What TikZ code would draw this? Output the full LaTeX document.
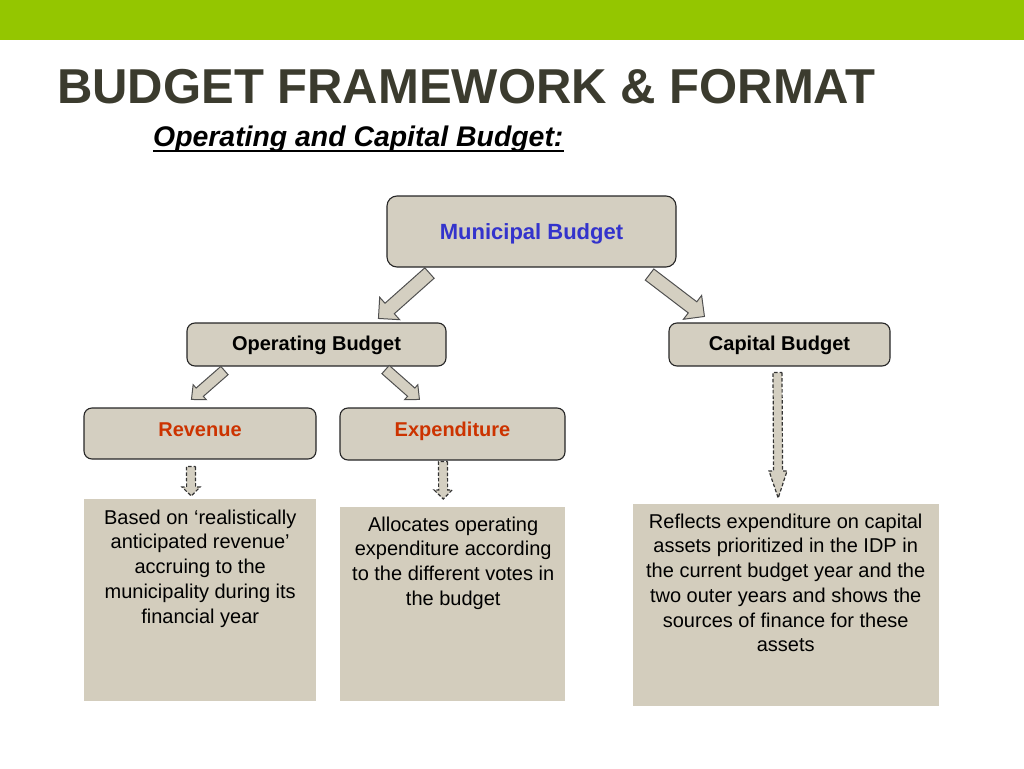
\documentclass[tikz,border=0pt]{standalone}
\usepackage{fontspec}
\setmainfont{Liberation Sans}
\usetikzlibrary{calc}
\definecolor{barGreen}{HTML}{94C600}
\definecolor{titleGray}{HTML}{3B3B2E}
\definecolor{boxFill}{HTML}{D4CFC1}
\definecolor{descFill}{HTML}{D3CDBD}
\definecolor{munBlue}{HTML}{3333CC}
\definecolor{subRed}{HTML}{CC3300}
\definecolor{arrowLine}{HTML}{505050}
\tikzset{
  hdbox/.style={draw=black!85, line width=1.1pt, fill=boxFill, rounded corners=8pt,
    font=\fontsize{20}{24}\selectfont\bfseries, text height=15pt, text depth=4pt, inner sep=0pt},
  descbox/.style={fill=descFill, inner sep=0pt, anchor=north west},
  desctext/.style={font=\fontsize{20}{24.7}\selectfont, align=center, inner sep=0pt, anchor=north},
  blockarr/.style={draw=arrowLine, line width=1pt, fill=boxFill, line join=miter},
  dasharr/.style={blockarr, draw=black!80, line width=1.2pt, dash pattern=on 3.5pt off 2pt}
}
% block arrow: [style]{from}{to}{shaft half}{head half}{head length}
\newcommand{\blockarrow}[6][]{%
  \coordinate (ba-head) at ($(#3)!#6!(#2)$);
  \draw[blockarr,#1] ($(#2)!#4!90:(#3)$) -- ($(ba-head)!#4!90:(#3)$) -- ($(ba-head)!#5!90:(#3)$)
    -- (#3) -- ($(ba-head)!#5!-90:(#3)$) -- ($(ba-head)!#4!-90:(#3)$) -- ($(#2)!#4!-90:(#3)$) -- cycle;
}
\begin{document}
\begin{tikzpicture}[x=1pt,y=-1pt]
    \useasboundingbox (0,0) rectangle (1024,768);
    \fill [barGreen] (0,0) rectangle (1024,40);
    \node [anchor=base west, inner sep=0pt, text=titleGray, font=\fontsize{49}{58}\selectfont\bfseries] (title) at (57,103) {BUDGET FRAMEWORK \& FORMAT};
    \node [anchor=base west, inner sep=0pt, font=\fontsize{28.4}{32}\selectfont\bfseries\itshape] (subtitle) at (153,146.5) {Operating and Capital Budget:};
    \draw [line width=2pt] ($(subtitle.base west)+(0,4.5)$) -- ($(subtitle.base east)+(0,4.5)$);

    \node [hdbox, rounded corners=10pt, minimum width=289, minimum height=71, text=munBlue, font=\fontsize{22}{26}\selectfont\bfseries, text height=16pt, text depth=0pt] (mun) at (531.5,231.5) {Municipal Budget};
    \node [hdbox, minimum width=259, minimum height=43] (op) at (316.5,344.5) {Operating Budget};
    \node [hdbox, minimum width=221, minimum height=43] (cap) at (779.5,344.5) {Capital Budget};
    \node [hdbox, minimum width=232, minimum height=51, text=subRed, text depth=10pt] (rev) at (200,433.5) {Revenue};
    \node [hdbox, minimum width=225, minimum height=52, text=subRed, text depth=10pt] (exp) at (452.5,434) {Expenditure};

    \node [descbox, minimum width=232, minimum height=202] (revd) at (84,499) {};
    \node [descbox, minimum width=225, minimum height=194] (expd) at (340,507) {};
    \node [descbox, minimum width=306, minimum height=202] (capd) at (633,504) {};
    \node [desctext] (revt) at ($(revd.north)+(0,10.5)$) {Based on ‘realistically\\anticipated revenue’\\accruing to the\\municipality during its\\financial year};
    \node [desctext] (expt) at ($(expd.north)+(0.5,9.5)$) {Allocates operating\\expenditure according\\to the different votes in\\the budget};
    \node [desctext] (capt) at ($(capd.north)+(-0.5,9.5)$) {Reflects expenditure on capital\\assets prioritized in the IDP in\\the current budget year and the\\two outer years and shows the\\sources of finance for these\\assets};

    % arrow ends
    \coordinate (munL) at ($(mun.south west)+(43,5.5)$);
    \coordinate (opTip) at ($(op.north west)+(192,-4)$);
    \coordinate (munR) at ($(mun.south east)+(-27,7)$);
    \coordinate (capTip) at ($(cap.north west)+(36,-6)$);
    \coordinate (opL) at ($(op.south west)+(38,4)$);
    \coordinate (revTip) at ($(rev.north west)+(108,-8)$);
    \coordinate (opR) at ($(op.south east)+(-61,3)$);
    \coordinate (expTip) at ($(exp.north west)+(80,-8)$);
    \coordinate (revB) at ($(rev.south)+(-9,7)$);
    \coordinate (revdTip) at ($(revd.north)+(-9,-3)$);
    \coordinate (expB) at ($(exp.south)+(-9.5,1)$);
    \coordinate (expdTip) at ($(expd.north)+(-9.5,-8)$);
    \coordinate (capB) at ($(cap.south)+(-2,6)$);
    \coordinate (capdTip) at ($(capd.north)+(-8,-6)$);

    \blockarrow{munL}{opTip}{7pt}{15pt}{15pt}
    \blockarrow{munR}{capTip}{7pt}{15pt}{15pt}
    \blockarrow{opL}{revTip}{5.5pt}{10pt}{11pt}
    \blockarrow{opR}{expTip}{5.5pt}{10pt}{11pt}
    \blockarrow[dasharr]{revB}{revdTip}{4.5pt}{9pt}{9pt}
    \blockarrow[dasharr]{expB}{expdTip}{4.5pt}{9pt}{9pt}
    \blockarrow[dasharr]{capB}{capdTip}{4.5pt}{9pt}{27pt}
\end{tikzpicture}
\end{document}
